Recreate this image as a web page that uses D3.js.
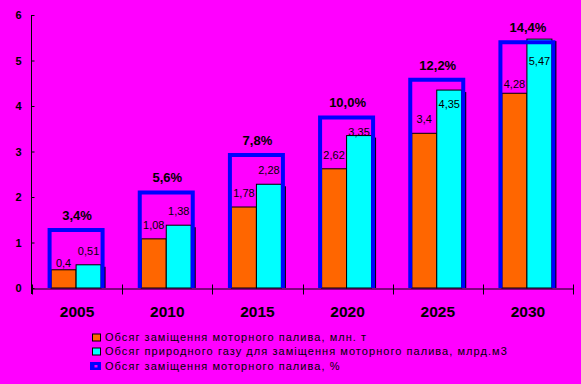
<!DOCTYPE html>
<html>
<head>
  <meta charset="UTF-8">
  <style>
    body { margin: 0; background: #ff00ff; }
    svg { display: block; }
    text { font-family: Arial, "Liberation Sans", sans-serif; fill: #000; }
    .val { font-family: "Liberation Sans Narrow", Arial, sans-serif; font-size: 11px; }
    .pct { font-size: 13px; font-weight: bold; }
    .legend text { font-size: 11px; letter-spacing: 1.05px; }
  </style>
  <script src="https://d3js.org/d3.v7.min.js"></script>
</head>
<body>
<svg id="chart" width="581" height="384"></svg>
<script>
// data
var years = ["2005", "2010", "2015", "2020", "2025", "2030"];
var fuelMt = [0.4, 1.08, 1.78, 2.62, 3.4, 4.28];
var gasBcm = [0.51, 1.38, 2.28, 3.35, 4.35, 5.47];
var sharePct = [3.4, 5.6, 7.8, 10.0, 12.2, 14.4];
var yTicks = [0, 1, 2, 3, 4, 5, 6];
var legendNames = [
  "Обсяг заміщення моторного палива, млн. т",
  "Обсяг природного газу для заміщення моторного палива, млрд.м3",
  "Обсяг заміщення моторного палива, %"
];

// labels were moved by hand in the original, px shifts from default spot
var fuelNudge = [7, 0, 0, 0, 0, 5];
var gasNudge = [0, 0, 0, 10, 28, 36];

var orange = "#ff6600", cyan = "#00ffff", blue = "#0000ff", bg = "#ff00ff";

var svg = d3.select("#chart");
svg.append("rect").attr("width", 581).attr("height", 384).attr("fill", bg);

var x = d3.scaleBand().domain(years).range([32, 573]);
var y = d3.scaleLinear().domain([0, 6]).range([288, 15]);
var y2 = d3.scaleLinear().domain([0, 16]).range([288, 15]);
var barW = 25;

function comma(v) { return String(v).replace(".", ","); }
function mid(i) { return x(years[i]) + x.bandwidth() / 2 - 1; }

var rows = years.map(function(yr, i) {
  return {year: yr, i: i, fuel: fuelMt[i], gas: gasBcm[i], pct: sharePct[i]};
});

var g = svg.append("g");

// shadow behind the gas bar
g.selectAll(".shadow").data(rows).enter().append("rect")
  .attr("x", function(d) { return mid(d.i) + 4.5; })
  .attr("y", function(d) { return y(d.gas) + 2; })
  .attr("width", barW)
  .attr("height", function(d) { return y(0) - y(d.gas) - 2; })
  .attr("fill", "#000");

g.selectAll(".fuel").data(rows).enter().append("rect")
  .attr("x", function(d) { return mid(d.i) - barW; })
  .attr("y", function(d) { return y(d.fuel); })
  .attr("width", barW)
  .attr("height", function(d) { return y(0) - y(d.fuel); })
  .attr("fill", orange).attr("stroke", "#000").attr("stroke-width", 1);

g.selectAll(".gas").data(rows).enter().append("rect")
  .attr("x", function(d) { return mid(d.i); })
  .attr("y", function(d) { return y(d.gas); })
  .attr("width", barW)
  .attr("height", function(d) { return y(0) - y(d.gas); })
  .attr("fill", cyan).attr("stroke", "#000").attr("stroke-width", 1);

// percent series: open blue box on the hidden second axis
g.selectAll(".box").data(rows).enter().append("path")
  .attr("d", function(d) {
    var l = mid(d.i) - barW - 1.5, r = mid(d.i) + barW + 1.5;
    return "M" + l + "," + y(0) + "V" + y2(d.pct) + "H" + r + "V" + y(0);
  })
  .attr("fill", "none").attr("stroke", blue).attr("stroke-width", 4);

// axes
var yAxis = svg.append("g").attr("transform", "translate(31.5,0)")
  .call(d3.axisLeft(y).tickValues(yTicks).tickFormat(d3.format("d"))
    .tickSize(-3).tickSizeOuter(0).tickPadding(10));
yAxis.select(".domain").remove();
yAxis.selectAll("text").attr("font-size", 11).attr("font-weight", "bold")
  .attr("font-family", "Arial, sans-serif").attr("fill", "#000");
yAxis.selectAll("line").attr("stroke", "#000");
svg.append("line").attr("x1", 31.5).attr("x2", 31.5).attr("y1", y(6)).attr("y2", y(0) + 6)
  .attr("stroke", "#000");

var xAxis = svg.append("g").attr("transform", "translate(0," + (y(0) + 0.5) + ")")
  .call(d3.axisBottom(x).tickSize(0).tickPadding(17));
xAxis.select(".domain").attr("stroke", "#000");
xAxis.selectAll("text").attr("font-size", 15.5).attr("font-weight", "bold")
  .attr("font-family", "Arial, sans-serif").attr("fill", "#000");

var edges = years.map(function(yr) { return x(yr); }).concat([x.range()[1]]);
xAxis.selectAll(".edge").data(edges).enter().append("line")
  .attr("x1", function(d) { return Math.round(d) + 0.5; })
  .attr("x2", function(d) { return Math.round(d) + 0.5; })
  .attr("y1", -4).attr("y2", 6).attr("stroke", "#000");

// labels
var lab = svg.append("g");
lab.selectAll(".vf").data(rows).enter().append("text").attr("class", "val")
  .attr("x", function(d) { return mid(d.i) - barW / 2; })
  .attr("y", function(d) { return y(d.fuel) - 10 + fuelNudge[d.i]; })
  .attr("text-anchor", "middle")
  .text(function(d) { return comma(d.fuel); });
lab.selectAll(".vg").data(rows).enter().append("text").attr("class", "val")
  .attr("x", function(d) { return mid(d.i) + barW / 2; })
  .attr("y", function(d) { return y(d.gas) - 10 + gasNudge[d.i]; })
  .attr("text-anchor", "middle")
  .text(function(d) { return comma(d.gas); });
lab.selectAll(".vp").data(rows).enter().append("text").attr("class", "pct")
  .attr("x", function(d) { return mid(d.i) + 1; })
  .attr("y", function(d) { return y2(d.pct) - 10; })
  .attr("text-anchor", "middle")
  .text(function(d) { return d.pct.toFixed(1).replace(".", ",") + "%"; });

// legend
var leg = svg.append("g").attr("class", "legend");
var rowY = [337.5, 351.5, 366];
leg.append("rect").attr("x", 92.5).attr("y", rowY[0] - 3.5).attr("width", 8).attr("height", 7)
  .attr("fill", orange).attr("stroke", "#000");
leg.append("rect").attr("x", 92.5).attr("y", rowY[1] - 3.5).attr("width", 8).attr("height", 7)
  .attr("fill", cyan).attr("stroke", "#000");
leg.append("rect").attr("x", 90).attr("y", rowY[2] - 4).attr("width", 11).attr("height", 8)
  .attr("fill", blue);
leg.append("rect").attr("x", 94.5).attr("y", rowY[2] - 1).attr("width", 3).attr("height", 2.5)
  .attr("fill", bg);
leg.selectAll(".lt").data(legendNames).enter().append("text")
  .attr("x", 105)
  .attr("y", function(d, i) { return rowY[i] + 3.5; })
  .text(function(d) { return d; });
</script>
</body>
</html>
